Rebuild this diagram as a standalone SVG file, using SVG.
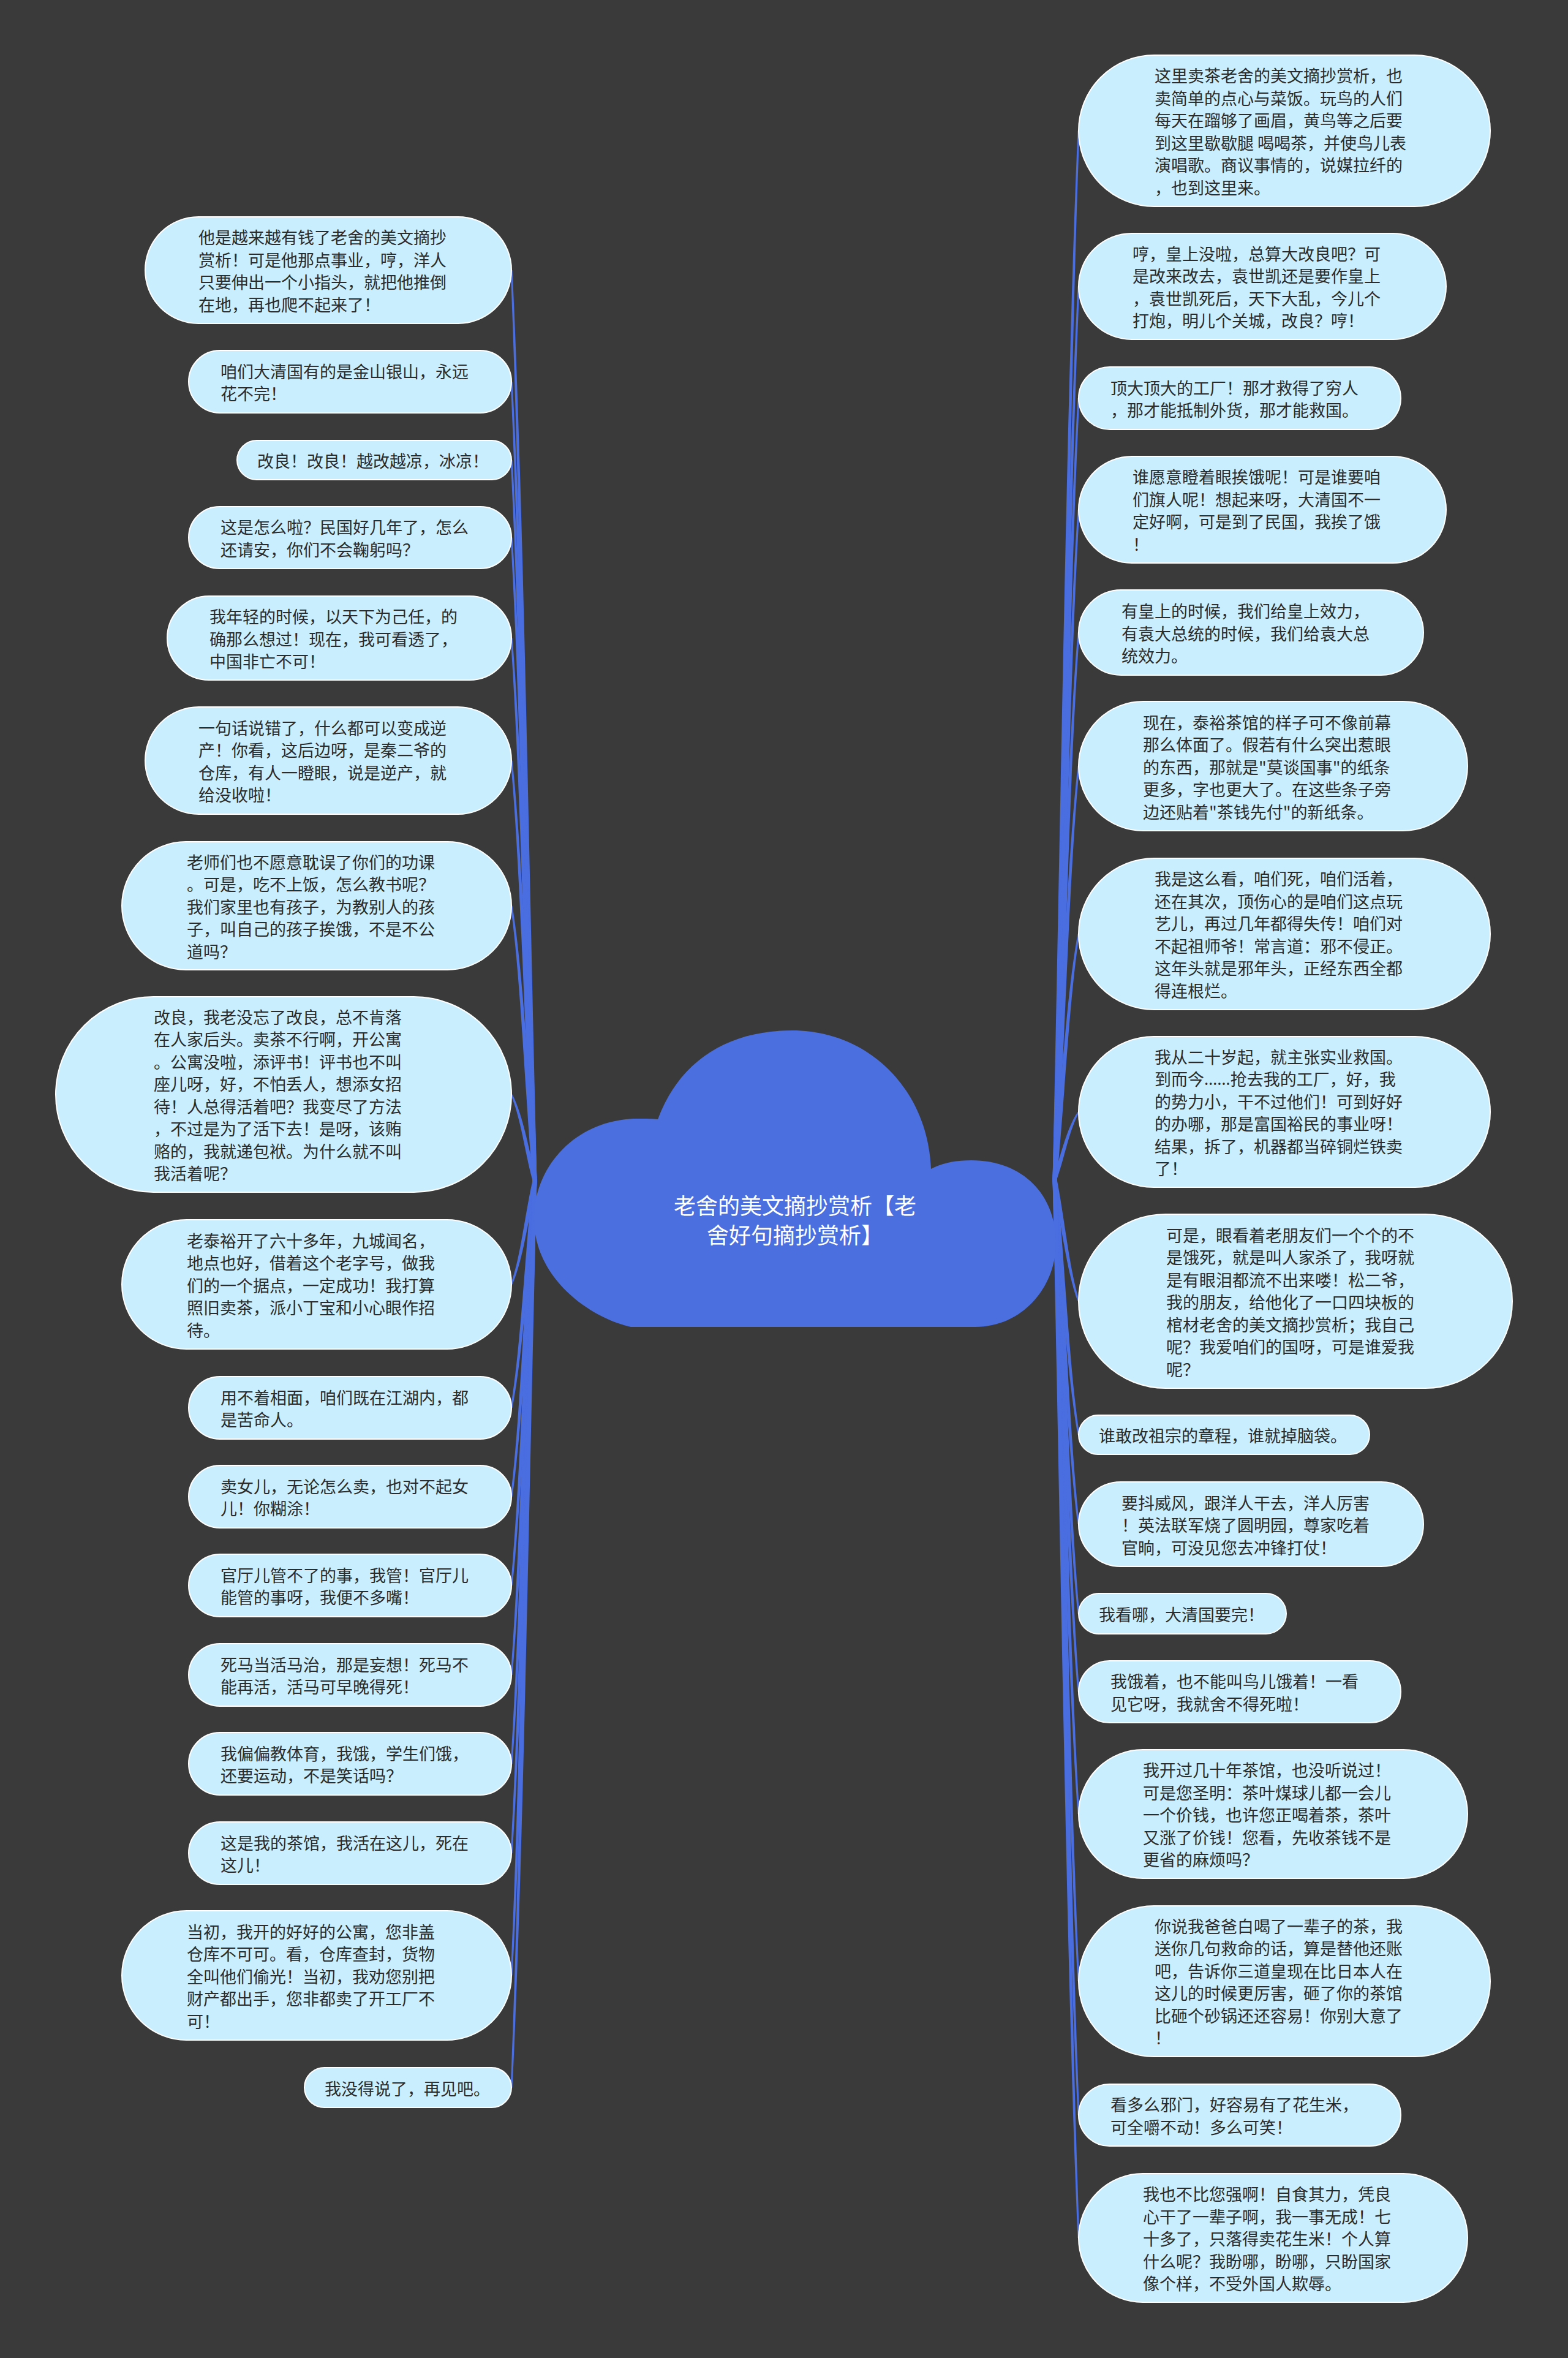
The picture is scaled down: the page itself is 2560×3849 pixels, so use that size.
<svg xmlns="http://www.w3.org/2000/svg" width="2560" height="3849" viewBox="0 0 2560 3849">
<style>
.bg{fill:#3a3a3a}
.n{fill:#c9eefd;stroke:#ffffff;stroke-width:2}
.t{font-family:"Noto Sans CJK SC","Noto Sans",sans-serif;font-size:27px;fill:#2b2b2b;dominant-baseline:central}
.e{font-family:"Noto Sans",sans-serif}
.c{fill:#4a6ee0;stroke:none}
.cloud{fill:#4b6fdf}
.title{font-family:"Noto Sans CJK SC","Noto Sans",sans-serif;font-size:36px;fill:#ffffff;text-anchor:middle;dominant-baseline:central}
</style>
<rect class="bg" x="0" y="0" width="2560" height="3849"/>
<g id="connectors">
<path class="c" d="M869.5 1927 C856.8 1431.7 849.6 812.5 833.5 441 L836.5 441 C854.6 812.5 863.8 1431.7 876.5 1927 Z"/>
<path class="c" d="M869.5 1927 C856.8 1492.3 849.6 949 833.5 623 L836.5 623 C854.6 949 863.8 1492.3 876.5 1927 Z"/>
<path class="c" d="M869.5 1927 C856.8 1535 849.6 1045 833.5 751 L836.5 751 C854.6 1045 863.8 1535 876.5 1927 Z"/>
<path class="c" d="M869.5 1927 C856.8 1577.2 849.6 1139.9 833.5 877.5 L836.5 877.5 C854.6 1139.9 863.8 1577.2 876.5 1927 Z"/>
<path class="c" d="M869.5 1927 C856.8 1631.8 849.6 1262.9 833.5 1041.5 L836.5 1041.5 C854.6 1262.9 863.8 1631.8 876.5 1927 Z"/>
<path class="c" d="M869.5 1927 C856.8 1698.5 849.6 1412.9 833.5 1241.5 L836.5 1241.5 C854.6 1412.9 863.8 1698.5 876.5 1927 Z"/>
<path class="c" d="M869.5 1927 C856.8 1777.5 849.6 1590.6 833.5 1478.5 L836.5 1478.5 C854.6 1590.6 863.8 1777.5 876.5 1927 Z"/>
<path class="c" d="M869.5 1927 C856.8 1880.2 849.6 1821.6 833.5 1786.5 L836.5 1786.5 C854.6 1821.6 863.8 1880.2 876.5 1927 Z"/>
<path class="c" d="M869.5 1927 C856.8 1983.5 849.6 2054.1 833.5 2096.5 L836.5 2096.5 C854.6 2054.1 863.8 1983.5 876.5 1927 Z"/>
<path class="c" d="M869.5 1927 C856.8 2050.7 849.6 2205.3 833.5 2298 L836.5 2298 C854.6 2205.3 863.8 2050.7 876.5 1927 Z"/>
<path class="c" d="M869.5 1927 C856.8 2099 849.6 2314 833.5 2443 L836.5 2443 C854.6 2314 863.8 2099 876.5 1927 Z"/>
<path class="c" d="M869.5 1927 C856.8 2147.3 849.6 2422.8 833.5 2588 L836.5 2588 C854.6 2422.8 863.8 2147.3 876.5 1927 Z"/>
<path class="c" d="M869.5 1927 C856.8 2196 849.6 2532.3 833.5 2734 L836.5 2734 C854.6 2532.3 863.8 2196 876.5 1927 Z"/>
<path class="c" d="M869.5 1927 C856.8 2244.3 849.6 2641 833.5 2879 L836.5 2879 C854.6 2641 863.8 2244.3 876.5 1927 Z"/>
<path class="c" d="M869.5 1927 C856.8 2293 849.6 2750.5 833.5 3025 L836.5 3025 C854.6 2750.5 863.8 2293 876.5 1927 Z"/>
<path class="c" d="M869.5 1927 C856.8 2359.5 849.6 2900.1 833.5 3224.5 L836.5 3224.5 C854.6 2900.1 863.8 2359.5 876.5 1927 Z"/>
<path class="c" d="M869.5 1927 C856.8 2420.5 849.6 3037.4 833.5 3407.5 L836.5 3407.5 C854.6 3037.4 863.8 2420.5 876.5 1927 Z"/>
<path class="c" d="M1718.5 1925 C1731.5 1354.5 1741 641.4 1759.5 213.5 L1762.5 213.5 C1746 641.4 1738.5 1354.5 1725.5 1925 Z"/>
<path class="c" d="M1718.5 1925 C1731.5 1439.2 1741 831.9 1759.5 467.5 L1762.5 467.5 C1746 831.9 1738.5 1439.2 1725.5 1925 Z"/>
<path class="c" d="M1718.5 1925 C1731.5 1500 1741 968.8 1759.5 650 L1762.5 650 C1746 968.8 1738.5 1500 1725.5 1925 Z"/>
<path class="c" d="M1718.5 1925 C1731.5 1560.7 1741 1105.3 1759.5 832 L1762.5 832 C1746 1105.3 1738.5 1560.7 1725.5 1925 Z"/>
<path class="c" d="M1718.5 1925 C1731.5 1627.5 1741 1255.6 1759.5 1032.5 L1762.5 1032.5 C1746 1255.6 1738.5 1627.5 1725.5 1925 Z"/>
<path class="c" d="M1718.5 1925 C1731.5 1700.2 1741 1419.1 1759.5 1250.5 L1762.5 1250.5 C1746 1419.1 1738.5 1700.2 1725.5 1925 Z"/>
<path class="c" d="M1718.5 1925 C1731.5 1791.5 1741 1624.6 1759.5 1524.5 L1762.5 1524.5 C1746 1624.6 1738.5 1791.5 1725.5 1925 Z"/>
<path class="c" d="M1718.5 1925 C1731.5 1888.3 1741 1842.5 1759.5 1815 L1762.5 1815 C1746 1842.5 1738.5 1888.3 1725.5 1925 Z"/>
<path class="c" d="M1718.5 1925 C1731.5 1991.3 1741 2074.3 1759.5 2124 L1762.5 2124 C1746 2074.3 1738.5 1991.3 1725.5 1925 Z"/>
<path class="c" d="M1718.5 1925 C1731.5 2064 1741 2237.8 1759.5 2342 L1762.5 2342 C1746 2237.8 1738.5 2064 1725.5 1925 Z"/>
<path class="c" d="M1718.5 1925 C1731.5 2112.7 1741 2347.3 1759.5 2488 L1762.5 2488 C1746 2347.3 1738.5 2112.7 1725.5 1925 Z"/>
<path class="c" d="M1718.5 1925 C1731.5 2161.3 1741 2456.8 1759.5 2634 L1762.5 2634 C1746 2456.8 1738.5 2161.3 1725.5 1925 Z"/>
<path class="c" d="M1718.5 1925 C1731.5 2203.8 1741 2552.4 1759.5 2761.5 L1762.5 2761.5 C1746 2552.4 1738.5 2203.8 1725.5 1925 Z"/>
<path class="c" d="M1718.5 1925 C1731.5 2270.3 1741 2702 1759.5 2961 L1762.5 2961 C1746 2702 1738.5 2270.3 1725.5 1925 Z"/>
<path class="c" d="M1718.5 1925 C1731.5 2361.3 1741 2906.8 1759.5 3234 L1762.5 3234 C1746 2906.8 1738.5 2361.3 1725.5 1925 Z"/>
<path class="c" d="M1718.5 1925 C1731.5 2434.2 1741 3070.6 1759.5 3452.5 L1762.5 3452.5 C1746 3070.6 1738.5 2434.2 1725.5 1925 Z"/>
<path class="c" d="M1718.5 1925 C1731.5 2501 1741 3221 1759.5 3653 L1762.5 3653 C1746 3221 1738.5 2501 1725.5 1925 Z"/>
</g>
<g id="root">
<path class="cloud" d="M1030 2166 C960 2150 874 2085 872 1994 C870 1900 945 1826 1041 1826 C1055 1826 1066 1826 1074 1827 C1110 1730 1190 1682 1293 1682 C1420 1682 1515 1780 1520 1908 C1540 1898 1560 1894 1586 1894 C1670 1894 1724 1950 1724 2029 C1724 2100 1670 2166 1592 2166 Z"/>
<text class="title" x="1298" y="1966">老舍的美文摘抄赏析【老</text>
<text class="title" x="1298" y="2014">舍好句摘抄赏析】</text>
</g>
<g id="node-L1"><rect class="n" x="237" y="354" width="598" height="174" rx="87"/>
<text class="t"><tspan x="324" y="386.25">他是越来越有钱了老舍的美文摘抄</tspan><tspan x="324" dy="36.5">赏析！可是他那点事业，哼，洋人</tspan><tspan x="324" dy="36.5">只要伸出一个小指头，就把他推倒</tspan><tspan x="324" dy="36.5">在地，再也爬不起来了！</tspan></text></g>
<g id="node-L2"><rect class="n" x="308" y="572" width="527" height="102" rx="51"/>
<text class="t"><tspan x="360" y="604.75">咱们大清国有的是金山银山，永远</tspan><tspan x="360" dy="36.5">花不完！</tspan></text></g>
<g id="node-L3"><rect class="n" x="387" y="719" width="448" height="64" rx="32"/>
<text class="t"><tspan x="420" y="751">改良！改良！越改越凉，冰凉！</tspan></text></g>
<g id="node-L4"><rect class="n" x="308" y="827" width="527" height="101" rx="50.5"/>
<text class="t"><tspan x="360" y="859.25">这是怎么啦？民国好几年了，怎么</tspan><tspan x="360" dy="36.5">还请安，你们不会鞠躬吗？</tspan></text></g>
<g id="node-L5"><rect class="n" x="273" y="973" width="562" height="137" rx="68.5"/>
<text class="t"><tspan x="342" y="1005">我年轻的时候，以天下为己任，的</tspan><tspan x="342" dy="36.5">确那么想过！现在，我可看透了，</tspan><tspan x="342" dy="36.5">中国非亡不可！</tspan></text></g>
<g id="node-L6"><rect class="n" x="237" y="1154" width="598" height="175" rx="87.5"/>
<text class="t"><tspan x="324" y="1186.75">一句话说错了，什么都可以变成逆</tspan><tspan x="324" dy="36.5">产！你看，这后边呀，是秦二爷的</tspan><tspan x="324" dy="36.5">仓库，有人一瞪眼，说是逆产，就</tspan><tspan x="324" dy="36.5">给没收啦！</tspan></text></g>
<g id="node-L7"><rect class="n" x="199" y="1374" width="636" height="209" rx="104.5"/>
<text class="t"><tspan x="305" y="1405.5">老师们也不愿意耽误了你们的功课</tspan><tspan x="305" dy="36.5">。可是，吃不上饭，怎么教书呢？</tspan><tspan x="305" dy="36.5">我们家里也有孩子，为教别人的孩</tspan><tspan x="305" dy="36.5">子，叫自己的孩子挨饿，不是不公</tspan><tspan x="305" dy="36.5">道吗？</tspan></text></g>
<g id="node-L8"><rect class="n" x="91" y="1627" width="744" height="319" rx="159.5"/>
<text class="t"><tspan x="251" y="1658.75">改良，我老没忘了改良，总不肯落</tspan><tspan x="251" dy="36.5">在人家后头。卖茶不行啊，开公寓</tspan><tspan x="251" dy="36.5">。公寓没啦，添评书！评书也不叫</tspan><tspan x="251" dy="36.5">座儿呀，好，不怕丢人，想添女招</tspan><tspan x="251" dy="36.5">待！人总得活着吧？我变尽了方法</tspan><tspan x="251" dy="36.5">，不过是为了活下去！是呀，该贿</tspan><tspan x="251" dy="36.5">赂的，我就递包袱。为什么就不叫</tspan><tspan x="251" dy="36.5">我活着呢？</tspan></text></g>
<g id="node-L9"><rect class="n" x="199" y="1991" width="636" height="211" rx="105.5"/>
<text class="t"><tspan x="305" y="2023.5">老泰裕开了六十多年，九城闻名，</tspan><tspan x="305" dy="36.5">地点也好，借着这个老字号，做我</tspan><tspan x="305" dy="36.5">们的一个据点，一定成功！我打算</tspan><tspan x="305" dy="36.5">照旧卖茶，派小丁宝和小心眼作招</tspan><tspan x="305" dy="36.5">待。</tspan></text></g>
<g id="node-L10"><rect class="n" x="308" y="2247" width="527" height="102" rx="51"/>
<text class="t"><tspan x="360" y="2279.75">用不着相面，咱们既在江湖内，都</tspan><tspan x="360" dy="36.5">是苦命人。</tspan></text></g>
<g id="node-L11"><rect class="n" x="308" y="2392" width="527" height="102" rx="51"/>
<text class="t"><tspan x="360" y="2424.75">卖女儿，无论怎么卖，也对不起女</tspan><tspan x="360" dy="36.5">儿！你糊涂！</tspan></text></g>
<g id="node-L12"><rect class="n" x="308" y="2537" width="527" height="102" rx="51"/>
<text class="t"><tspan x="360" y="2569.75">官厅儿管不了的事，我管！官厅儿</tspan><tspan x="360" dy="36.5">能管的事呀，我便不多嘴！</tspan></text></g>
<g id="node-L13"><rect class="n" x="308" y="2683" width="527" height="102" rx="51"/>
<text class="t"><tspan x="360" y="2715.75">死马当活马治，那是妄想！死马不</tspan><tspan x="360" dy="36.5">能再活，活马可早晚得死！</tspan></text></g>
<g id="node-L14"><rect class="n" x="308" y="2828" width="527" height="102" rx="51"/>
<text class="t"><tspan x="360" y="2860.75">我偏偏教体育，我饿，学生们饿，</tspan><tspan x="360" dy="36.5">还要运动，不是笑话吗？</tspan></text></g>
<g id="node-L15"><rect class="n" x="308" y="2974" width="527" height="102" rx="51"/>
<text class="t"><tspan x="360" y="3006.75">这是我的茶馆，我活在这儿，死在</tspan><tspan x="360" dy="36.5">这儿！</tspan></text></g>
<g id="node-L16"><rect class="n" x="199" y="3119" width="636" height="211" rx="105.5"/>
<text class="t"><tspan x="305" y="3151.5">当初，我开的好好的公寓，您非盖</tspan><tspan x="305" dy="36.5">仓库不可可。看，仓库查封，货物</tspan><tspan x="305" dy="36.5">全叫他们偷光！当初，我劝您别把</tspan><tspan x="305" dy="36.5">财产都出手，您非都卖了开工厂不</tspan><tspan x="305" dy="36.5">可！</tspan></text></g>
<g id="node-L17"><rect class="n" x="497" y="3375" width="338" height="65" rx="32.5"/>
<text class="t"><tspan x="530" y="3407.5">我没得说了，再见吧。</tspan></text></g>
<g id="node-R1"><rect class="n" x="1761" y="90" width="672" height="247" rx="123.5"/>
<text class="t"><tspan x="1885" y="122.25">这里卖茶老舍的美文摘抄赏析，也</tspan><tspan x="1885" dy="36.5">卖简单的点心与菜饭。玩鸟的人们</tspan><tspan x="1885" dy="36.5">每天在蹓够了画眉，黄鸟等之后要</tspan><tspan x="1885" dy="36.5">到这里歇歇腿 喝喝茶，并使鸟儿表</tspan><tspan x="1885" dy="36.5">演唱歌。商议事情的，说媒拉纤的</tspan><tspan x="1885" dy="36.5">，也到这里来。</tspan></text></g>
<g id="node-R2"><rect class="n" x="1761" y="381" width="600" height="173" rx="86.5"/>
<text class="t"><tspan x="1849" y="412.75">哼，皇上没啦，总算大改良吧？可</tspan><tspan x="1849" dy="36.5">是改来改去，袁世凯还是要作皇上</tspan><tspan x="1849" dy="36.5">，袁世凯死后，天下大乱，今儿个</tspan><tspan x="1849" dy="36.5">打炮，明儿个关城，改良？哼！</tspan></text></g>
<g id="node-R3"><rect class="n" x="1761" y="599" width="526" height="102" rx="51"/>
<text class="t"><tspan x="1813" y="631.75">顶大顶大的工厂！那才救得了穷人</tspan><tspan x="1813" dy="36.5">，那才能抵制外货，那才能救国。</tspan></text></g>
<g id="node-R4"><rect class="n" x="1761" y="745" width="600" height="174" rx="87"/>
<text class="t"><tspan x="1849" y="777.25">谁愿意瞪着眼挨饿呢！可是谁要咱</tspan><tspan x="1849" dy="36.5">们旗人呢！想起来呀，大清国不一</tspan><tspan x="1849" dy="36.5">定好啊，可是到了民国，我挨了饿</tspan><tspan x="1849" dy="36.5">！</tspan></text></g>
<g id="node-R5"><rect class="n" x="1761" y="963" width="563" height="139" rx="69.5"/>
<text class="t"><tspan x="1831" y="996">有皇上的时候，我们给皇上效力，</tspan><tspan x="1831" dy="36.5">有袁大总统的时候，我们给袁大总</tspan><tspan x="1831" dy="36.5">统效力。</tspan></text></g>
<g id="node-R6"><rect class="n" x="1761" y="1145" width="635" height="211" rx="105.5"/>
<text class="t"><tspan x="1866" y="1177.5">现在，泰裕茶馆的样子可不像前幕</tspan><tspan x="1866" dy="36.5">那么体面了。假若有什么突出惹眼</tspan><tspan x="1866" dy="36.5">的东西，那就是"莫谈国事"的纸条</tspan><tspan x="1866" dy="36.5">更多，字也更大了。在这些条子旁</tspan><tspan x="1866" dy="36.5">边还贴着"茶钱先付"的新纸条。</tspan></text></g>
<g id="node-R7"><rect class="n" x="1761" y="1401" width="672" height="247" rx="123.5"/>
<text class="t"><tspan x="1885" y="1433.25">我是这么看，咱们死，咱们活着，</tspan><tspan x="1885" dy="36.5">还在其次，顶伤心的是咱们这点玩</tspan><tspan x="1885" dy="36.5">艺儿，再过几年都得失传！咱们对</tspan><tspan x="1885" dy="36.5">不起祖师爷！常言道：邪不侵正。</tspan><tspan x="1885" dy="36.5">这年头就是邪年头，正经东西全都</tspan><tspan x="1885" dy="36.5">得连根烂。</tspan></text></g>
<g id="node-R8"><rect class="n" x="1761" y="1692" width="672" height="246" rx="123"/>
<text class="t"><tspan x="1885" y="1723.75">我从二十岁起，就主张实业救国。</tspan><tspan x="1885" dy="36.5">到而今<tspan class="e">……</tspan>抢去我的工厂，好，我</tspan><tspan x="1885" dy="36.5">的势力小，干不过他们！可到好好</tspan><tspan x="1885" dy="36.5">的办哪，那是富国裕民的事业呀！</tspan><tspan x="1885" dy="36.5">结果，拆了，机器都当碎铜烂铁卖</tspan><tspan x="1885" dy="36.5">了！</tspan></text></g>
<g id="node-R9"><rect class="n" x="1761" y="1982" width="708" height="284" rx="142"/>
<text class="t"><tspan x="1904" y="2014.5">可是，眼看着老朋友们一个个的不</tspan><tspan x="1904" dy="36.5">是饿死，就是叫人家杀了，我呀就</tspan><tspan x="1904" dy="36.5">是有眼泪都流不出来喽！松二爷，</tspan><tspan x="1904" dy="36.5">我的朋友，给他化了一口四块板的</tspan><tspan x="1904" dy="36.5">棺材老舍的美文摘抄赏析；我自己</tspan><tspan x="1904" dy="36.5">呢？我爱咱们的国呀，可是谁爱我</tspan><tspan x="1904" dy="36.5">呢？</tspan></text></g>
<g id="node-R10"><rect class="n" x="1761" y="2310" width="475" height="64" rx="32"/>
<text class="t"><tspan x="1794" y="2342">谁敢改祖宗的章程，谁就掉脑袋。</tspan></text></g>
<g id="node-R11"><rect class="n" x="1761" y="2419" width="563" height="138" rx="69"/>
<text class="t"><tspan x="1831" y="2451.5">要抖威风，跟洋人干去，洋人厉害</tspan><tspan x="1831" dy="36.5">！英法联军烧了圆明园，尊家吃着</tspan><tspan x="1831" dy="36.5">官晌，可没见您去冲锋打仗！</tspan></text></g>
<g id="node-R12"><rect class="n" x="1761" y="2601" width="339" height="66" rx="33"/>
<text class="t"><tspan x="1794" y="2634">我看哪，大清国要完！</tspan></text></g>
<g id="node-R13"><rect class="n" x="1761" y="2711" width="526" height="101" rx="50.5"/>
<text class="t"><tspan x="1813" y="2743.25">我饿着，也不能叫鸟儿饿着！一看</tspan><tspan x="1813" dy="36.5">见它呀，我就舍不得死啦！</tspan></text></g>
<g id="node-R14"><rect class="n" x="1761" y="2856" width="635" height="210" rx="105"/>
<text class="t"><tspan x="1866" y="2888">我开过几十年茶馆，也没听说过！</tspan><tspan x="1866" dy="36.5">可是您圣明：茶叶煤球儿都一会儿</tspan><tspan x="1866" dy="36.5">一个价钱，也许您正喝着茶，茶叶</tspan><tspan x="1866" dy="36.5">又涨了价钱！您看，先收茶钱不是</tspan><tspan x="1866" dy="36.5">更省的麻烦吗？</tspan></text></g>
<g id="node-R15"><rect class="n" x="1761" y="3111" width="672" height="246" rx="123"/>
<text class="t"><tspan x="1885" y="3142.75">你说我爸爸白喝了一辈子的茶，我</tspan><tspan x="1885" dy="36.5">送你几句救命的话，算是替他还账</tspan><tspan x="1885" dy="36.5">吧，告诉你三道皇现在比日本人在</tspan><tspan x="1885" dy="36.5">这儿的时候更厉害，砸了你的茶馆</tspan><tspan x="1885" dy="36.5">比砸个砂锅还还容易！你别大意了</tspan><tspan x="1885" dy="36.5">！</tspan></text></g>
<g id="node-R16"><rect class="n" x="1761" y="3402" width="526" height="101" rx="50.5"/>
<text class="t"><tspan x="1813" y="3434.25">看多么邪门，好容易有了花生米，</tspan><tspan x="1813" dy="36.5">可全嚼不动！多么可笑！</tspan></text></g>
<g id="node-R17"><rect class="n" x="1761" y="3548" width="635" height="210" rx="105"/>
<text class="t"><tspan x="1866" y="3580">我也不比您强啊！自食其力，凭良</tspan><tspan x="1866" dy="36.5">心干了一辈子啊，我一事无成！七</tspan><tspan x="1866" dy="36.5">十多了，只落得卖花生米！个人算</tspan><tspan x="1866" dy="36.5">什么呢？我盼哪，盼哪，只盼国家</tspan><tspan x="1866" dy="36.5">像个样，不受外国人欺辱。</tspan></text></g>
</svg>
